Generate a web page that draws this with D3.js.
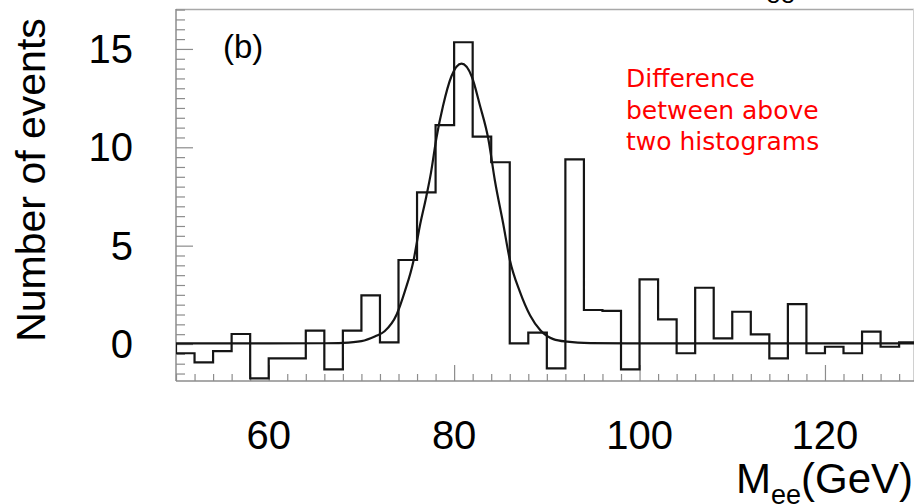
<!DOCTYPE html>
<html>
<head>
<meta charset="utf-8">
<script src="https://cdn.jsdelivr.net/npm/d3@7"></script>
<style>
  body { margin: 0; background: #fff; }
  svg { display: block; }
  text { font-family: "Liberation Sans", Arial, sans-serif; }
  text.note { font-family: "DejaVu Sans", sans-serif; }
</style>
</head>
<body>
<svg class="chart" width="914" height="504"></svg>
<script>
// Histogram: events per 2 GeV bin, starting at 50 GeV
var binStart = 50, binWidth = 2;
var counts = [-0.47, -0.93, -0.36, 0.51, -1.75, -0.73, -0.73, 0.68, -1.29, 0.68,
              2.47, 0.08, 4.27, 7.71, 11.13, 15.34, 10.54, 9.24, 0.03, 0.58,
              -1.24, 9.39, 1.73, 1.68, -1.29, 3.29, 1.25, -0.47, 2.86, 0.29,
              1.64, 0.49, -0.73, 2.03, -0.47, -0.14, -0.47, 0.63, -0.14, 0.08];

// Fit curve (mass, events)
var fitMass = [50, 60, 66, 68, 70, 71.5, 72.5, 73.8, 74.7, 75.6, 76.3, 77.0, 77.5, 78.1, 78.8, 79.7,
               80.8, 81.9, 82.8, 83.7, 84.4, 85.3, 86.0, 87.1, 88.2, 89.3, 90.7, 92.2, 94.7, 100, 130];
var fitValue = [0.03, 0.03, 0.04, 0.06, 0.15, 0.4, 0.65, 1.5, 2.7, 4.2, 6.0, 7.5, 8.7, 10.5, 12.1, 13.6,
                14.25, 13.6, 12.1, 10.4, 8.3, 6.1, 4.3, 2.65, 1.45, 0.7, 0.25, 0.12, 0.05, 0.03, 0.03];

var xTicks = [60, 80, 100, 120];
var yTicks = [0, 5, 10, 15];
var noteLines = ["Difference", "between above", "two histograms"];

var svg = d3.select(".chart");
var x = d3.scaleLinear().domain([50, 129.55]).range([176, 913.5]);
var y = d3.scaleLinear().domain([-1.88, 17.03]).range([381, 9]);
var axisGrey = "#8c8c8c";

svg.append("defs").append("clipPath").attr("id", "plotclip")
  .append("rect").attr("x", 176).attr("y", 9).attr("width", 738).attr("height", 372);

// frame (top and right in light grey)
svg.append("line").attr("x1", 176).attr("x2", 914).attr("y1", 9.5).attr("y2", 9.5)
  .attr("stroke", "#a8a8a8").attr("stroke-width", 1.5);
svg.append("line").attr("x1", 913.5).attr("x2", 913.5).attr("y1", 9).attr("y2", 381)
  .attr("stroke", "#d0d0d0").attr("stroke-width", 1);

// axes with ticks pointing inwards
var xAxis = svg.append("g").attr("transform", "translate(0,381)");
xAxis.call(d3.axisTop(x).tickValues(d3.range(50, 130, 2)).tickSize(7).tickFormat(""));
xAxis.selectAll(".tick line").filter(function(d){ return d % 20 == 0; }).attr("y2", -16);
var yAxis = svg.append("g").attr("transform", "translate(176,0)");
yAxis.call(d3.axisRight(y).tickValues(d3.range(-1.5, 17.01, 0.5)).tickSize(9).tickFormat(""));
yAxis.selectAll(".tick line").filter(function(d){ return Math.abs(d % 5) < 1e-6; }).attr("x2", 17);
svg.selectAll(".domain").attr("stroke", axisGrey).attr("stroke-width", 1.5);
svg.selectAll(".tick line").attr("stroke", axisGrey).attr("stroke-width", 1.2);
xAxis.select(".domain").attr("d", "M176,0H914");
yAxis.select(".domain").attr("d", "M0,9V381");

// tick labels
svg.selectAll(".xlab").data(xTicks).enter().append("text")
  .attr("x", function(d){ return x(d); }).attr("y", 449)
  .attr("text-anchor", "middle").attr("font-size", 40).text(function(d){ return d; });
svg.selectAll(".ylab").data(yTicks).enter().append("text")
  .attr("x", 133).attr("y", function(d){ return y(d) + 14; })
  .attr("text-anchor", "end").attr("font-size", 40).text(function(d){ return d; });

// axis titles
svg.append("text").attr("transform", "translate(45,180) rotate(-90)")
  .attr("text-anchor", "middle").attr("font-size", 41).text("Number of events");
var xt = svg.append("text").attr("x", 913).attr("y", 493).attr("text-anchor", "end").attr("font-size", 42);
xt.append("tspan").text("M");
xt.append("tspan").attr("font-size", 27).attr("dy", 11).text("ee");
xt.append("tspan").attr("dy", -11).text("(GeV)");

// fragment of the panel above
svg.append("text").attr("x", 766).attr("y", 2.5).attr("font-size", 26).text("ee");

var plot = svg.append("g").attr("clip-path", "url(#plotclip)");

// histogram outline
var pts = [[binStart, 0]];
counts.forEach(function(c, i) {
  pts.push([binStart + i * binWidth, c]);
  pts.push([binStart + (i + 1) * binWidth, c]);
});
pts.push([binStart + counts.length * binWidth, 0]);
plot.append("path")
  .attr("d", d3.line().x(function(d){ return x(d[0]); }).y(function(d){ return y(d[1]); })(pts))
  .attr("fill", "none").attr("stroke", "#151515").attr("stroke-width", 2.2);

// fit
plot.append("path")
  .attr("d", d3.line().curve(d3.curveMonotoneX)
    .x(function(d, i){ return x(fitMass[i]); }).y(function(d){ return y(d); })(fitValue))
  .attr("fill", "none").attr("stroke", "#151515").attr("stroke-width", 2.2);

// labels
svg.append("text").attr("x", 223).attr("y", 58).attr("font-size", 33).text("(b)");
svg.selectAll(".note").data(noteLines).enter().append("text")
  .attr("class", "note")
  .attr("x", 626).attr("y", function(d, i){ return 87 + i * 31.5; })
  .attr("font-size", 25).attr("fill", "#ff0000")
  .text(function(d){ return d; });
</script>
</body>
</html>
